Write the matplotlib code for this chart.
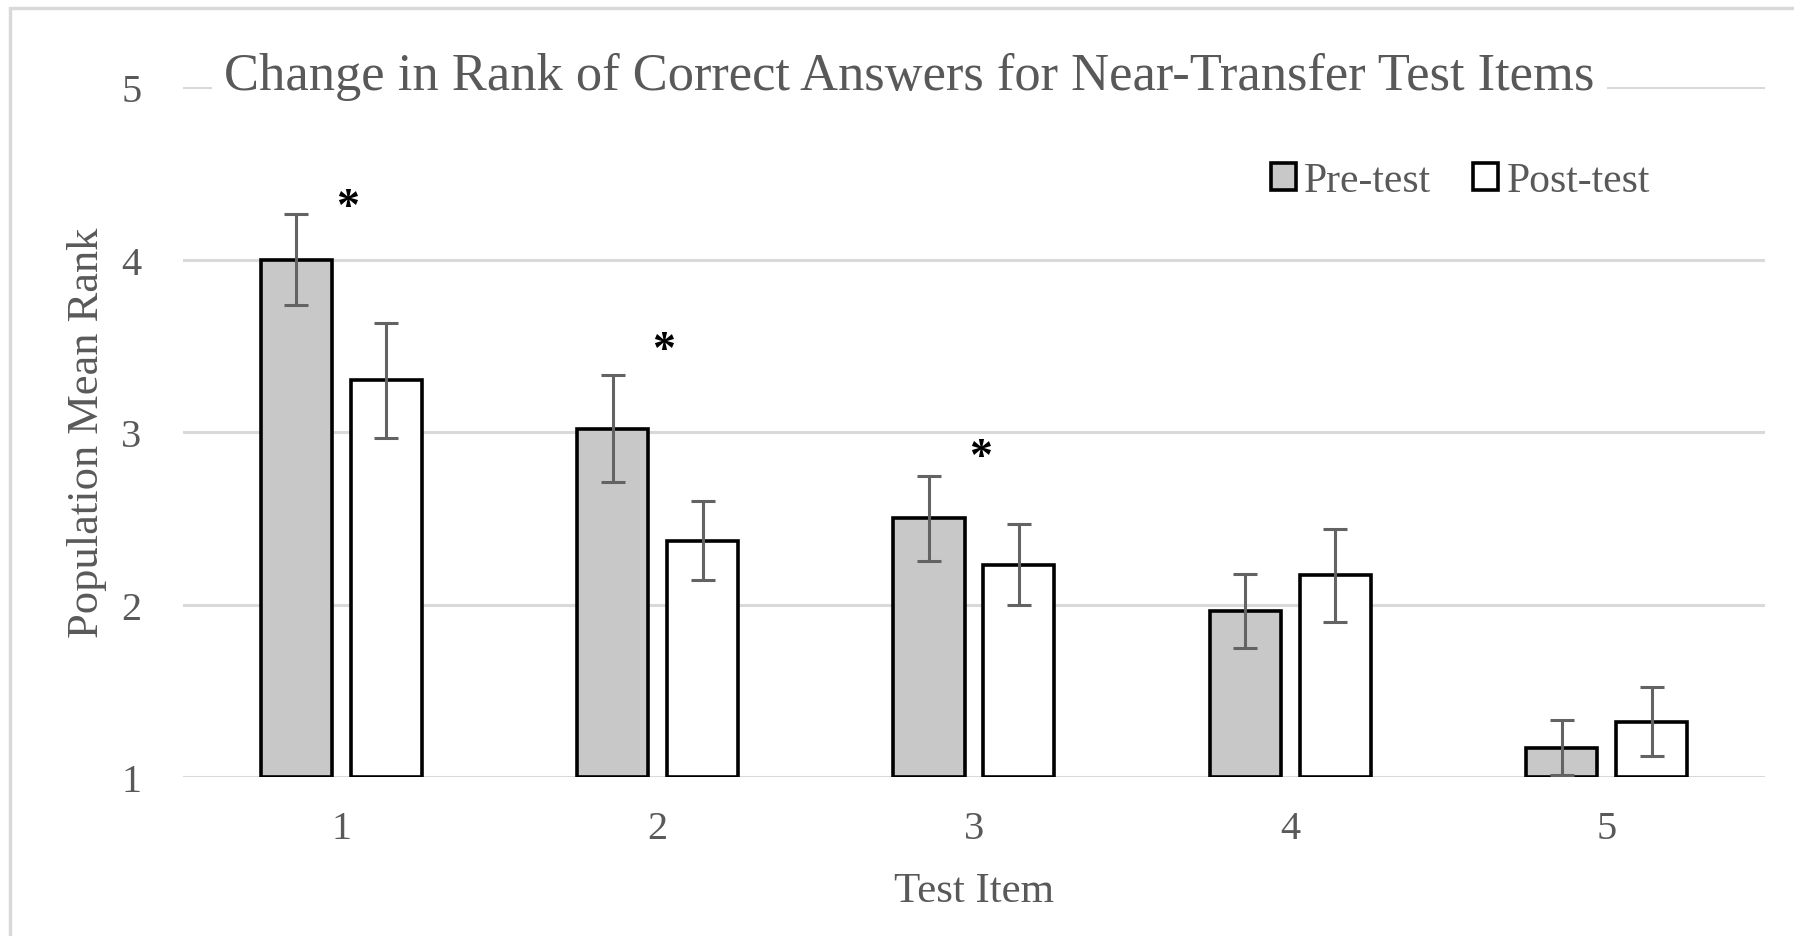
import numpy as np
import matplotlib
matplotlib.use('Agg')
import matplotlib.pyplot as plt
from matplotlib.patches import Rectangle

# data
items = [1, 2, 3, 4, 5]
pre_mean = [4.00, 3.02, 2.50, 1.96, 1.17]
pre_err = [0.265, 0.31, 0.245, 0.215, 0.16]
post_mean = [3.30, 2.37, 2.23, 2.17, 1.32]
post_err = [0.335, 0.23, 0.235, 0.27, 0.20]
sig_items = [1, 2, 3]
sig_height = [4.30, 3.47, 2.85]
y_ticks = [1, 2, 3, 4, 5]

text_gray = '#595959'
grid_gray = '#d9d9d9'

plt.rcParams['font.family'] = ['Liberation Serif', 'DejaVu Serif']

fig = plt.figure(figsize=(17.94, 9.37), dpi=100)
ax = fig.add_axes([0.102, 0.1697, 0.8818, 0.7363])

x = np.array(items, dtype=float)
w = 0.225
off = 0.142
ekw = dict(ecolor='#636363', elinewidth=2.2, capsize=8.5, capthick=2.2)

ax.bar(x - off, np.array(pre_mean) - 1, w, bottom=1, color='#c8c8c8', edgecolor='black',
       linewidth=2.6, label='Pre-test', zorder=3)
ax.bar(x + off, np.array(post_mean) - 1, w, bottom=1, color='white', edgecolor='black',
       linewidth=2.6, label='Post-test', zorder=3)
ax.errorbar(x - off, pre_mean, yerr=pre_err, fmt='none', zorder=4, **ekw)
ax.errorbar(x + off, post_mean, yerr=post_err, fmt='none', zorder=4, **ekw)

for i, h in zip(sig_items, sig_height):
    ax.text(i + 0.02, h, '*', ha='center', va='center', fontsize=33, fontweight='bold',
            color='black', zorder=5)

ax.set_xlim(0.5, 5.5)
ax.set_ylim(1, 5)
ax.set_yticks(y_ticks)
ax.set_xticks(items)
ax.yaxis.grid(True, color=grid_gray, linewidth=2.2, zorder=0)
ax.set_axisbelow(True)
for s in ax.spines.values():
    s.set_visible(False)
ax.tick_params(axis='both', length=0, labelsize=29, labelcolor=text_gray)
ax.tick_params(axis='y', pad=30)
ax.tick_params(axis='x', pad=24)

ax.set_ylabel('Population Mean Rank', fontsize=32, color=text_gray, labelpad=10)
fig.text(0.543, 0.048, 'Test Item', ha='center', va='center', fontsize=31, color=text_gray)

fig.text(0.507, 0.918, 'Change in Rank of Correct Answers for Near-Transfer Test Items',
         ha='center', va='center', fontsize=37.8, color=text_gray,
         bbox=dict(facecolor='white', edgecolor='none', pad=9))

leg = ax.legend(loc='center', bbox_to_anchor=(0.814, 0.806), bbox_transform=fig.transFigure,
                ncol=2, frameon=False, fontsize=30, handlelength=0.6, handleheight=0.6,
                handletextpad=0.2, columnspacing=1.0)
for t in leg.get_texts():
    t.set_color(text_gray)

fig.patches.append(Rectangle((10 / 1794, -0.1), 1.2, 1.1 - 9 / 937, transform=fig.transFigure,
                             fill=False, edgecolor=grid_gray, linewidth=2.5))

fig.savefig('out.png', dpi=100)
